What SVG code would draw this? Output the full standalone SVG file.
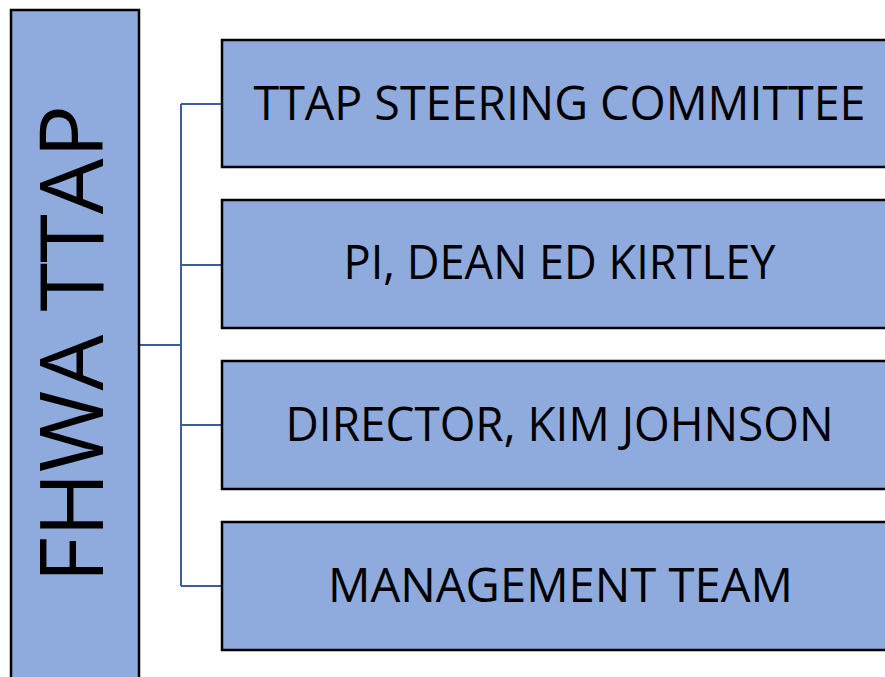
<svg xmlns="http://www.w3.org/2000/svg" width="885" height="677" viewBox="0 0 885 677">
<style>
.box{fill:#8FAADC;stroke:#000;stroke-width:2.5}
.lbl{font-family:"Open Sans","Liberation Sans",sans-serif;font-size:47px;fill:#000;text-anchor:middle}
.big{font-family:"Open Sans","Liberation Sans",sans-serif;font-size:88px;fill:#000;text-anchor:middle}
.conn{fill:none;stroke:#3B5CA0;stroke-width:2}
</style>
<rect width="885" height="677" fill="#fff"/>
<g id="connectors">
<path class="conn" d="M139 345H181M181 104V586M181 104H222M181 265H222M181 425H222M181 586H222"/>
</g>
<g id="root">
<rect class="box" x="11" y="10" width="128" height="670"/>
<text class="big" transform="translate(103,344) rotate(-90)" x="0" y="0" textLength="478" lengthAdjust="spacingAndGlyphs">FHWA TTAP</text>
</g>
<g id="n1">
<rect class="box" x="222" y="40" width="665" height="127"/>
<text class="lbl" x="559.5" y="120" textLength="612" lengthAdjust="spacingAndGlyphs">TTAP STEERING COMMITTEE</text>
</g>
<g id="n2">
<rect class="box" x="222" y="200" width="665" height="128"/>
<text class="lbl" x="559.5" y="279" textLength="432" lengthAdjust="spacingAndGlyphs">PI, DEAN ED KIRTLEY</text>
</g>
<g id="n3">
<rect class="box" x="222" y="361" width="665" height="128"/>
<text class="lbl" x="559.5" y="441" textLength="548" lengthAdjust="spacingAndGlyphs">DIRECTOR, KIM JOHNSON</text>
</g>
<g id="n4">
<rect class="box" x="222" y="522" width="665" height="128"/>
<text class="lbl" x="560.5" y="602" textLength="465" lengthAdjust="spacingAndGlyphs">MANAGEMENT TEAM</text>
</g>
</svg>
